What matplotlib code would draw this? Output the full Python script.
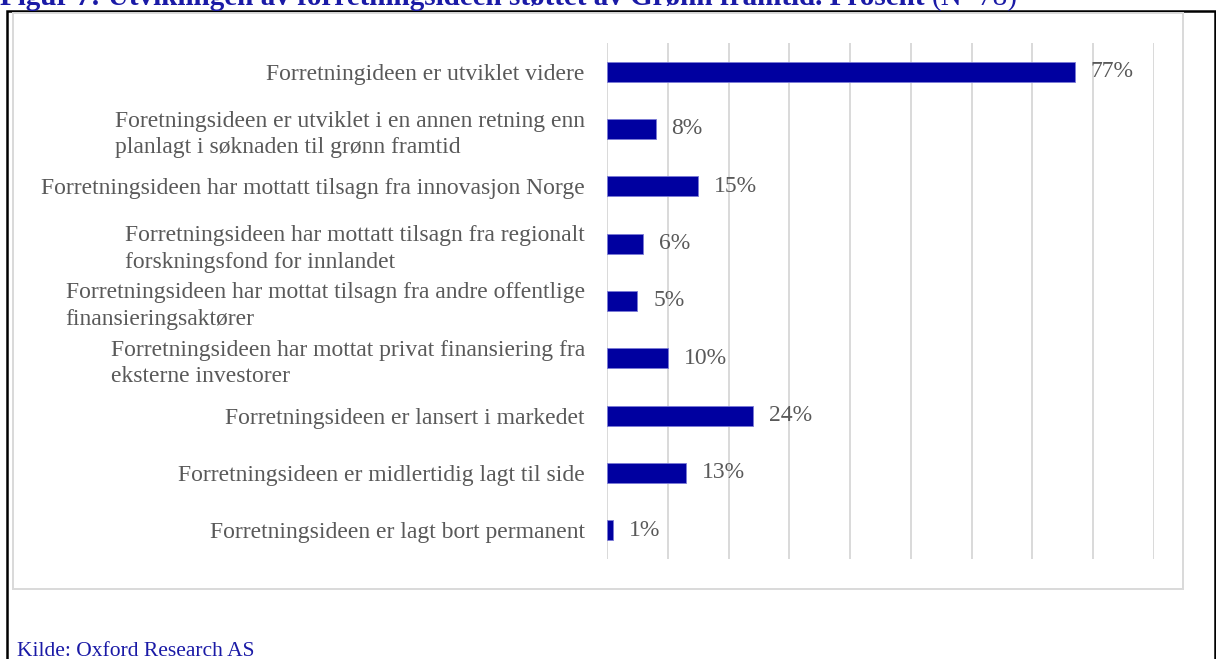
import matplotlib.pyplot as plt
from matplotlib.patches import Rectangle

plt.rcParams['font.family'] = ['Liberation Serif', 'DejaVu Serif']

categories = [
    "Forretningideen er utviklet videre",
    "Foretningsideen er utviklet i en annen retning enn\nplanlagt i søknaden til grønn framtid",
    "Forretningsideen har mottatt tilsagn fra innovasjon Norge",
    "Forretningsideen har mottatt tilsagn fra regionalt\nforskningsfond for innlandet",
    "Forretningsideen har mottat tilsagn fra andre offentlige\nfinansieringsaktører",
    "Forretningsideen har mottat privat finansiering fra\neksterne investorer",
    "Forretningsideen er lansert i markedet",
    "Forretningsideen er midlertidig lagt til side",
    "Forretningsideen er lagt bort permanent",
]
values = [77, 8, 15, 6, 5, 10, 24, 13, 1]
xticks = list(range(0, 100, 10))

title_main = "Figur 7: Utviklingen av forretningsideen støttet av Grønn framtid. Prosent "
title_n = "(N=78)"
source = "Kilde: Oxford Research AS"

W, H = 1216, 659
fig = plt.figure(figsize=(W / 100, H / 100), dpi=100)

def fx(px):
    return px / W

def fy(py):
    return 1 - py / H

# outer black frame and inner gray chart frame
fig.patches.append(Rectangle((fx(6.5), fy(700)), fx(1215 - 6.5), (700 - 11) / H,
                             transform=fig.transFigure, fill=False,
                             edgecolor='black', linewidth=1.8))
fig.patches.append(Rectangle((fx(13), fy(589)), fx(1183 - 13), (589 - 13) / H,
                             transform=fig.transFigure, fill=False,
                             edgecolor='#d9d9d9', linewidth=1.4))

ax = fig.add_axes([fx(607), fy(559), fx(1154 - 607), (559 - 43) / H])
ypos = list(range(len(categories)))
ax.barh(ypos, values, height=0.35, color='#0000a0', edgecolor='#7b7bd6', linewidth=0.6, zorder=3)
for y, v in zip(ypos, values):
    ax.annotate(f"{v}%", (v, y), xytext=(11.5, 0), textcoords='offset points',
                va='center', ha='left', fontsize=17, color='#595959')

ax.set_xlim(0, 90)
ax.set_ylim(len(categories) - 0.5, -0.5)
ax.set_xticks(xticks)
ax.set_xticklabels([])
ax.tick_params(axis='x', length=0)
ax.grid(axis='x', color='#d9d9d9', linewidth=1.4, zorder=0)
ax.set_yticks(ypos)
ax.set_yticklabels(categories, fontsize=17, color='#595959')
ax.tick_params(axis='y', length=0, pad=16)
for lab in ax.get_yticklabels():
    lab.set_multialignment('left')
    lab.set_linespacing(1.35)
for s in ax.spines.values():
    s.set_visible(False)

t = fig.text(0.0, fy(5), title_main, fontsize=21, fontweight='bold', color='#1a1aa6', va='baseline')
fig.canvas.draw()
bb = t.get_window_extent()
fig.text(bb.x1 / W, fy(5), title_n, fontsize=21, color='#1a1aa6', va='baseline')

fig.text(fx(17), fy(656), source, fontsize=15.5, color='#1a1aa6', va='baseline')

fig.savefig('out.png', dpi=100)
